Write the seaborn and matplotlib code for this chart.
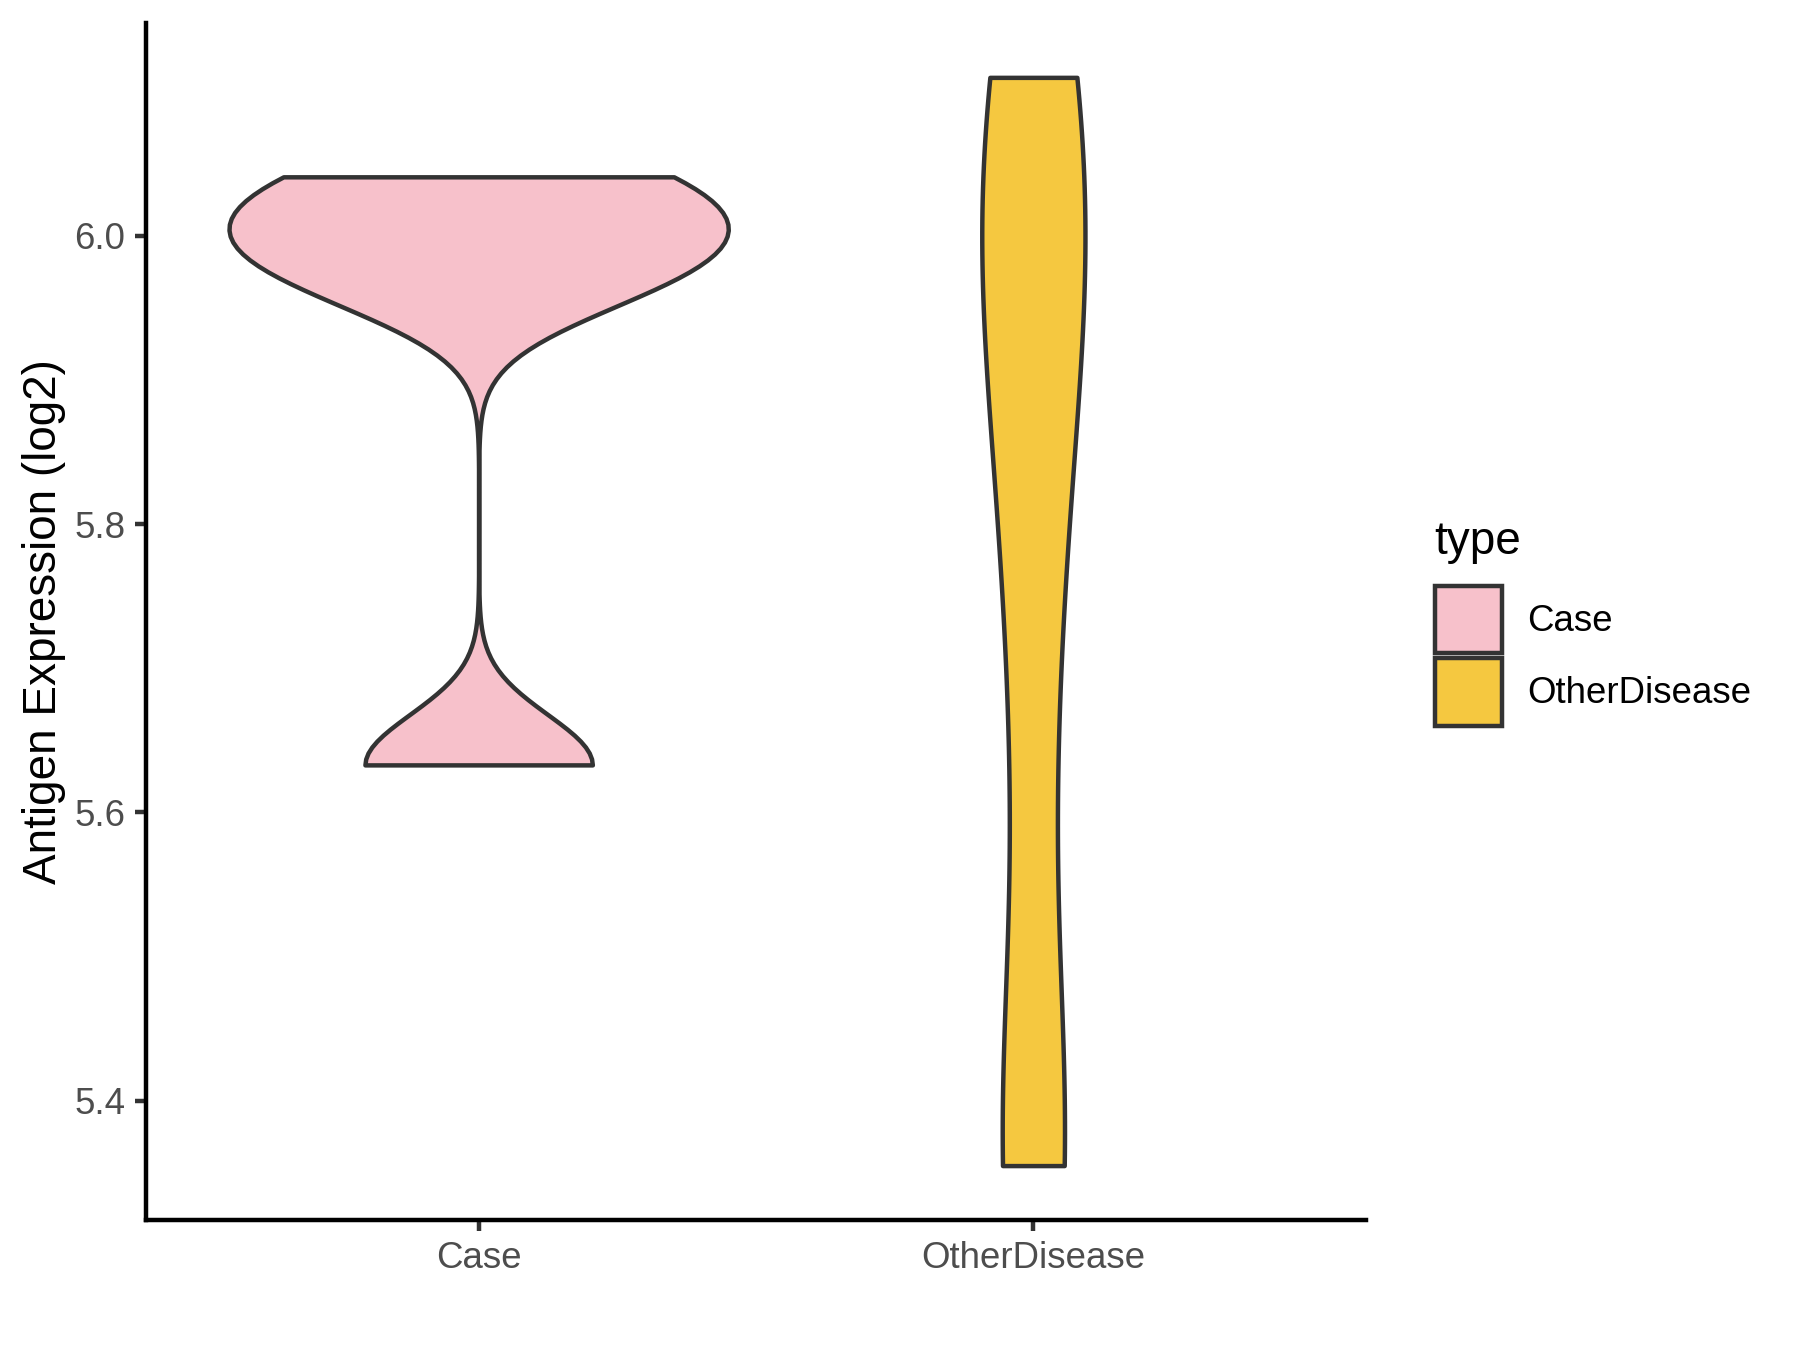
import numpy as np
import pandas as pd
import matplotlib
matplotlib.use('Agg')
import matplotlib.pyplot as plt
from matplotlib.patches import Patch
import seaborn as sns

# categories and per-group expression values (log2)
categories = ['Case', 'OtherDisease']
case_values = [5.633, 5.970, 6.005, 6.041]
other_values = [5.355, 5.360, 5.680, 5.880, 5.980, 6.060, 6.110]
colors = ['#F7C1CB', '#F5C840']
y_ticks = [5.4, 5.6, 5.8, 6.0]

# kernel bandwidths (absolute, log2 units) for each group
case_bw = 0.035
other_bw = 0.15

df = pd.DataFrame({
    'type': ['Case'] * len(case_values) + ['OtherDisease'] * len(other_values),
    'expr': case_values + other_values,
})

sns.set_style('ticks')
plt.rcParams['font.family'] = ['Liberation Sans', 'DejaVu Sans']

fig, ax = plt.subplots(figsize=(6, 4.5), dpi=300)
fig.subplots_adjust(left=0.081, right=0.759, bottom=0.0963, top=0.983)

edge = '#333333'
lw = 1.07
groups = [('Case', case_values, case_bw, 0.90), ('OtherDisease', other_values, other_bw, 0.186)]
for (name, vals, bw, width), col in zip(groups, colors):
    sub = df[df['type'] == name]
    sns.violinplot(data=sub, x='type', y='expr', order=categories, color=col,
                   saturation=1, cut=0, inner=None, width=width,
                   bw_method=bw / np.std(vals, ddof=1),
                   linewidth=lw, linecolor=edge, ax=ax)

ax.set_xlim(-0.6, 1.6)
lo, hi = min(case_values + other_values), max(case_values + other_values)
pad = 0.05 * (hi - lo)
ax.set_ylim(lo - pad, hi + pad)
ax.set_yticks(y_ticks)
ax.set_yticklabels([f'{t:.1f}' for t in y_ticks])

ax.set_xlabel('')
ax.set_ylabel('Antigen Expression (log2)', fontsize=11, color='black', labelpad=2)
ax.tick_params(axis='both', labelsize=8.8, labelcolor='#4D4D4D', color=edge,
               length=2.75, width=lw, pad=2.2)
sns.despine(ax=ax)
for s in ['left', 'bottom']:
    ax.spines[s].set_linewidth(lw)
    ax.spines[s].set_color('black')

handles = [Patch(facecolor=c, edgecolor=edge, linewidth=lw, label=n)
           for c, n in zip(colors, categories)]
leg = fig.legend(handles=handles, title='type', loc='upper left',
                 bbox_to_anchor=(0.797, 0.615), frameon=False, fontsize=8.8,
                 title_fontsize=11, handlelength=1.83, handleheight=2.44,
                 labelspacing=0.15, handletextpad=0.7, borderpad=0,
                 borderaxespad=0, alignment='left', labelcolor='black')
leg.get_title().set_color('black')
leg._legend_box.sep = 5.3

fig.savefig('out.png', dpi=300)
